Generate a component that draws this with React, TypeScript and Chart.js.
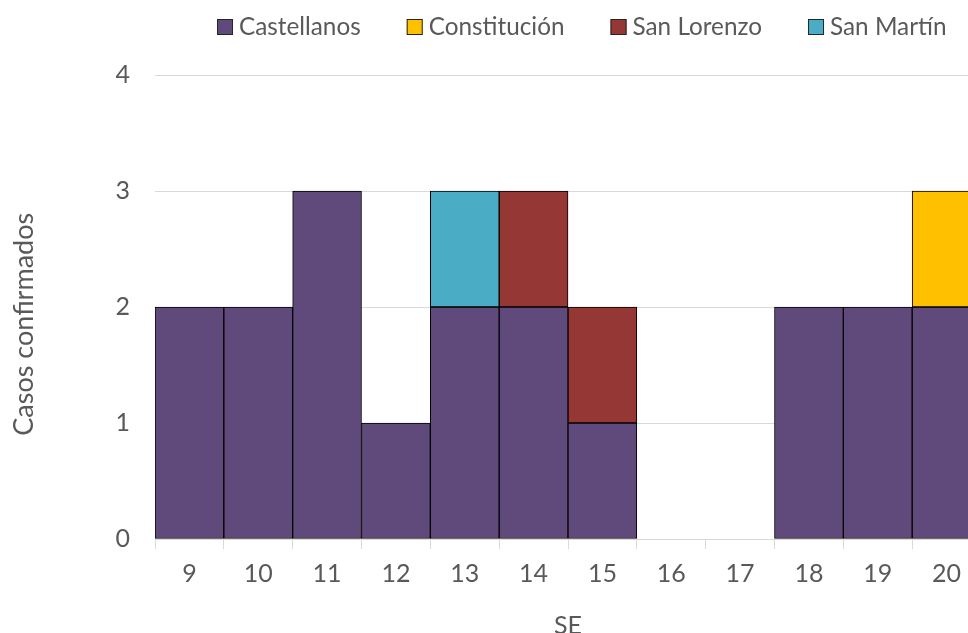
import { useEffect, useRef } from "react";
import { Chart, registerables } from "chart.js";

Chart.register(...registerables);

const weeks = ["9", "10", "11", "12", "13", "14", "15", "16", "17", "18", "19", "20"];
const castellanos = [2, 2, 3, 1, 2, 2, 1, 0, 0, 2, 2, 2];
const constitucion = [0, 0, 0, 0, 0, 0, 0, 0, 0, 0, 0, 1];
const sanLorenzo = [0, 0, 0, 0, 0, 1, 1, 0, 0, 0, 0, 0];
const sanMartin = [0, 0, 0, 0, 1, 0, 0, 0, 0, 0, 0, 0];
const seriesNames = ["Castellanos", "Constitución", "San Lorenzo", "San Martín"];
const seriesColors = ["#604A7B", "#FFC000", "#953735", "#4BACC6"];
const yMin = 0;
const yMax = 4;
const yStep = 1;

const FONT = "Lato";
const TEXT = "#595959";

const legendPlugin = {
  id: "excelLegend",
  afterDraw(chart: any) {
    const ctx = chart.ctx;
    ctx.save();
    ctx.font = `24.3px ${FONT}`;
    ctx.textBaseline = "middle";
    ctx.textAlign = "left";
    let x = 217;
    const y = 27;
    chart.data.datasets.forEach((ds: any) => {
      ctx.fillStyle = ds.backgroundColor;
      ctx.fillRect(x, y - 8, 16, 16);
      ctx.strokeStyle = "#262626";
      ctx.lineWidth = 1;
      ctx.strokeRect(x + 0.5, y - 7.5, 15, 15);
      ctx.fillStyle = TEXT;
      ctx.fillText(ds.label, x + 22, y);
      x += 22 + ctx.measureText(ds.label).width + 46;
    });
    ctx.restore();
  },
};

export default function App() {
  const ref = useRef<HTMLCanvasElement>(null);
  useEffect(() => {
    document.body.style.margin = "0";
    document.body.style.overflow = "hidden";
    const values = [castellanos, constitucion, sanLorenzo, sanMartin];
    const chart = new Chart(ref.current!, {
      type: "bar",
      data: {
        labels: weeks,
        datasets: values.map((v, i) => ({
          label: seriesNames[i],
          data: v,
          backgroundColor: seriesColors[i],
          borderColor: "#000000",
          borderWidth: 1,
          borderSkipped: false,
          barPercentage: 1,
          categoryPercentage: 1,
        })),
      },
      options: {
        responsive: false,
        animation: false,
        layout: { padding: { top: 75, right: 0, bottom: 0, left: 0 } },
        plugins: { legend: { display: false }, tooltip: { enabled: false } },
        scales: {
          x: {
            stacked: true,
            grid: { drawOnChartArea: false, drawTicks: true, tickLength: 10, color: "#d9d9d9", offset: true },
            border: { color: "#d9d9d9" },
            ticks: { color: TEXT, font: { family: FONT, size: 25 }, padding: 10, maxRotation: 0 },
            title: { display: true, text: "SE", color: TEXT, font: { family: FONT, size: 25, lineHeight: 0.6 }, padding: { top: 5, bottom: 0 } },
            afterFit: (s: any) => {
              s.height = 94;
            },
          },
          y: {
            stacked: true,
            min: yMin,
            max: yMax,
            ticks: { stepSize: yStep, color: TEXT, font: { family: FONT, size: 25 }, padding: 25 },
            grid: { color: "#d9d9d9", drawTicks: false },
            border: { display: false },
            title: { display: true, text: "Casos confirmados     ", color: TEXT, font: { family: FONT, size: 27, lineHeight: 1 }, padding: { top: 11, bottom: 0 } },
            afterFit: (s: any) => {
              s.width = 155;
            },
          },
        },
      },
      plugins: [legendPlugin],
    });
    return () => chart.destroy();
  }, []);
  return <canvas ref={ref} width={981} height={633} style={{ display: "block" }} />;
}
